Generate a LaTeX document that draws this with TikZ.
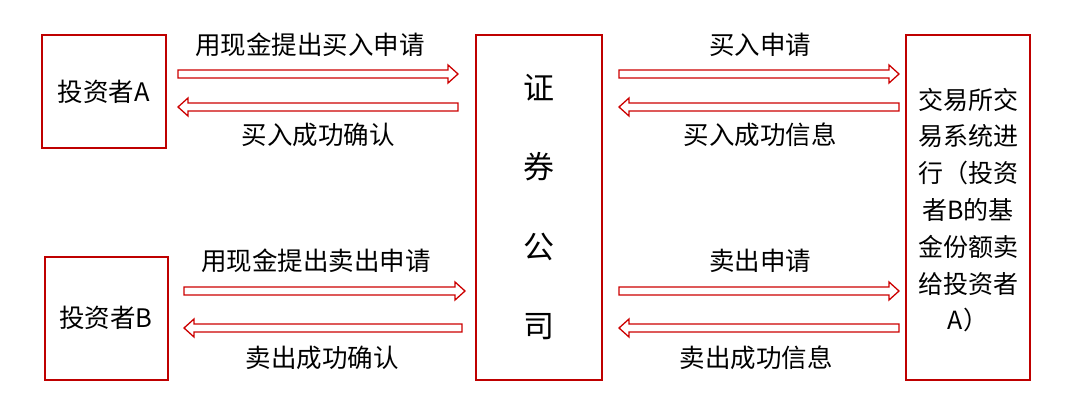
\documentclass[tikz,border=0pt]{standalone}
\usepackage{fontspec}
\setmainfont{Noto Sans CJK SC}
\usetikzlibrary{calc}
\newcommand{\rarr}[2]{\draw[arr] let \p1=(#1),\p2=(#2) in
  (\x1,\y1+4) -- (\x2-10,\y1+4) -- (\x2-10,\y1+9) -- (\x2,\y1) -- (\x2-10,\y1-9) -- (\x2-10,\y1-4) -- (\x1,\y1-4) -- cycle;}
\newcommand{\larr}[2]{\draw[arr] let \p1=(#1),\p2=(#2) in
  (\x1,\y1+4) -- (\x2+10,\y1+4) -- (\x2+10,\y1+9) -- (\x2,\y1) -- (\x2+10,\y1-9) -- (\x2+10,\y1-4) -- (\x1,\y1-4) -- cycle;}
\begin{document}
\begin{tikzpicture}[x=1pt,y=-1pt,
  box/.style={draw=red!75!black,line width=1.4pt},
  arr/.style={draw=red!80!black,line width=1.3pt,line join=miter},
  lab/.style={font=\fontsize{25.5}{30}\selectfont},
  big/.style={font=\fontsize{31}{36}\selectfont}]
\useasboundingbox (0,0) rectangle (1080,417);
\draw[box] (42,35) rectangle (166,148);
\node[lab] (A) at (104,92) {投资者A};
\draw[box] (45,257) rectangle (168,380);
\node[lab] (B) at (106,318) {投资者B};
\draw[box] (476,35) rectangle (602,380);
\node[big] (z1) at (539,88) {证};
\node[big] (z2) at (539,167) {券};
\node[big] (z3) at (539,247) {公};
\node[big] (z4) at (539,327) {司};
\draw[box] (906,35) rectangle (1030,380);
\node[lab,align=center,font=\fontsize{25}{36.8}\selectfont] (E) at (968,210) {交易所交\\易系统进\\行（投资\\者B的基\\金份额卖\\给投资者\\A）};
\coordinate (a1) at (178,74); \coordinate (a2) at (458,74);
\coordinate (a3) at (458,107); \coordinate (a4) at (178,107);
\coordinate (b1) at (184,291); \coordinate (b2) at (465,291);
\coordinate (b3) at (462,328); \coordinate (b4) at (184,328);
\coordinate (c1) at (619,74); \coordinate (c2) at (899,74);
\coordinate (c3) at (899,107); \coordinate (c4) at (619,107);
\coordinate (d1) at (619,291); \coordinate (d2) at (899,291);
\coordinate (d3) at (899,328); \coordinate (d4) at (619,328);
\rarr{a1}{a2} \larr{a3}{a4}
\rarr{b1}{b2} \larr{b3}{b4}
\rarr{c1}{c2} \larr{c3}{c4}
\rarr{d1}{d2} \larr{d3}{d4}
\node[lab] (l1) at (310,45) {用现金提出买入申请};
\node[lab] (l2) at (318,135) {买入成功确认};
\node[lab] (l3) at (316,261) {用现金提出卖出申请};
\node[lab] (l4) at (322,358) {卖出成功确认};
\node[lab] (l5) at (760,45) {买入申请};
\node[lab] (l6) at (760,135) {买入成功信息};
\node[lab] (l7) at (760,261) {卖出申请};
\node[lab] (l8) at (756,358) {卖出成功信息};
\end{tikzpicture}
\end{document}
